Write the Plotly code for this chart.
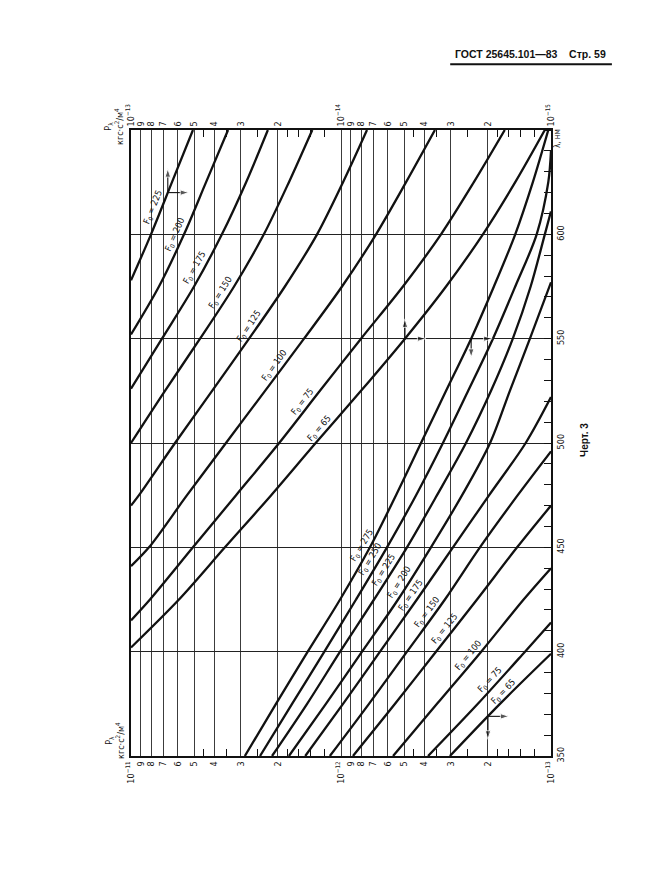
import numpy as np
import plotly.graph_objects as go

# ---------------- data ----------------
# Lower family: read on the BOTTOM axis (10^-11 ... 10^-13)
lam_L275 = [350, 375, 400, 425, 450, 475, 500, 525, 550, 575, 600, 625, 650]
P_L275 = [2.87e-12, 2.04e-12, 1.44e-12, 1.01e-12, 7.28e-13, 5.47e-13, 4.16e-13,
          3.16e-13, 2.40e-13, 1.87e-13, 1.48e-13, 1.22e-13, 1.03e-13]
lam_L250 = [350, 375, 400, 425, 450, 475, 500, 525, 550, 575, 600, 625, 640]
P_L250 = [2.43e-12, 1.71e-12, 1.20e-12, 8.48e-13, 6.04e-13, 4.39e-13, 3.27e-13,
          2.48e-13, 1.89e-13, 1.48e-13, 1.17e-13, 1.03e-13, 1.00e-13]
lam_L225 = [350, 375, 400, 425, 450, 475, 500, 525, 550, 575, 600, 611]
P_L225 = [2.13e-12, 1.45e-12, 1.01e-12, 6.96e-13, 4.85e-13, 3.49e-13, 2.54e-13,
          1.93e-13, 1.52e-13, 1.25e-13, 1.07e-13, 1.00e-13]
lam_L200 = [350, 375, 400, 425, 450, 475, 500, 525, 550, 577]
P_L200 = [1.77e-12, 1.18e-12, 7.94e-13, 5.35e-13, 3.73e-13, 2.65e-13, 1.95e-13,
          1.57e-13, 1.26e-13, 1.00e-13]
lam_L175 = [350, 375, 400, 425, 450, 475, 500, 522]
P_L175 = [1.48e-12, 9.78e-13, 6.52e-13, 4.35e-13, 2.93e-13, 1.97e-13, 1.32e-13, 1.00e-13]
lam_L150 = [350, 375, 400, 425, 450, 475, 496]
P_L150 = [1.13e-12, 7.36e-13, 4.85e-13, 3.20e-13, 2.18e-13, 1.44e-13, 1.00e-13]
lam_L125 = [350, 375, 400, 425, 450, 470]
P_L125 = [8.77e-13, 5.53e-13, 3.53e-13, 2.25e-13, 1.45e-13, 1.00e-13]
lam_L100 = [350, 375, 400, 425, 440]
P_L100 = [5.65e-13, 3.49e-13, 2.15e-13, 1.35e-13, 1.00e-13]
lam_L75 = [350, 375, 400, 414]
P_L75 = [3.85e-13, 2.23e-13, 1.33e-13, 1.00e-13]
lam_L65 = [350, 375, 399]
P_L65 = [3.03e-13, 1.75e-13, 1.00e-13]

# Upper family: read on the TOP axis (10^-13 ... 10^-15)
lam_U225 = [578, 600, 625, 650]
P_U225 = [1.00e-13, 8.03e-14, 6.38e-14, 5.07e-14]
lam_U200 = [552, 575, 600, 625, 650]
P_U200 = [1.00e-13, 7.36e-14, 5.59e-14, 4.39e-14, 3.45e-14]
lam_U175 = [526, 550, 575, 600, 625, 650]
P_U175 = [1.00e-13, 7.12e-14, 5.01e-14, 3.69e-14, 2.83e-14, 2.23e-14]
lam_U150 = [500, 525, 550, 575, 600, 625, 650]
P_U150 = [1.00e-13, 6.89e-14, 4.69e-14, 3.23e-14, 2.33e-14, 1.77e-14, 1.37e-14]
lam_U125 = [470, 475, 500, 525, 550, 575, 600, 625, 650]
P_U125 = [1.00e-13, 9.16e-14, 6.17e-14, 4.11e-14, 2.74e-14, 1.85e-14, 1.30e-14,
          9.78e-15, 7.52e-15]
lam_U100 = [441, 450, 475, 500, 525, 550, 575, 600, 625, 650]
P_U100 = [1.00e-13, 8.21e-14, 5.41e-14, 3.53e-14, 2.30e-14, 1.50e-14, 9.89e-15,
          6.81e-15, 4.90e-15, 3.57e-15]
lam_U75 = [415, 425, 450, 475, 500, 525, 550, 575, 600, 625, 650]
P_U75 = [1.00e-13, 8.12e-14, 5.07e-14, 3.16e-14, 1.97e-14, 1.26e-14, 8.03e-15,
         5.07e-15, 3.34e-15, 2.33e-15, 1.66e-15]
lam_U65 = [402, 425, 450, 475, 500, 525, 550, 575, 600, 625, 650]
P_U65 = [1.00e-13, 5.91e-14, 3.57e-14, 2.15e-14, 1.32e-14, 8.03e-15, 4.96e-15,
         3.16e-15, 2.11e-15, 1.48e-15, 1.07e-15]

F0_lower = [275, 250, 225, 200, 175, 150, 125, 100, 75, 65]
F0_upper = [225, 200, 175, 150, 125, 100, 75, 65]

# where the F0 labels sit (wavelength along each curve) and their slant
lab_lam_lower = [451, 444, 439, 433, 427, 419, 411, 398, 386.5, 381]
lab_ang_lower = [59, 59, 58, 58, 55, 53, 51, 50, 47, 46]
lab_lam_upper = [613, 600, 584, 572, 556, 537, 520, 507]
lab_ang_upper = [68, 66, 60, 58, 56, 54, 52, 49]

# axis ticks
lam_ticks = [350, 400, 450, 500, 550, 600]
mant_ticks = [10, 9, 8, 7, 6, 5, 4, 3, 2]
mant_minor = [4.5, 3.5, 2.5, 1.8, 1.6, 1.4, 1.2]
bottom_decades = [-11, -12, -13]
top_decades = [-13, -14, -15]

lower_curves = [(lam_L275, P_L275), (lam_L250, P_L250), (lam_L225, P_L225),
                (lam_L200, P_L200), (lam_L175, P_L175), (lam_L150, P_L150),
                (lam_L125, P_L125), (lam_L100, P_L100), (lam_L75, P_L75),
                (lam_L65, P_L65)]
upper_curves = [(lam_U225, P_U225), (lam_U200, P_U200), (lam_U175, P_U175),
                (lam_U150, P_U150), (lam_U125, P_U125), (lam_U100, P_U100),
                (lam_U75, P_U75), (lam_U65, P_U65)]

FONT = "Liberation Sans Narrow, DejaVu Sans Condensed, Arial Narrow, sans-serif"
BOLD = "Liberation Sans, Arial, sans-serif"
INK = "#111111"


def log_tick(decades):
    vals, txt = [], []
    for d in decades[:-1]:
        for m in mant_ticks:
            vals.append(m * 10.0 ** (d - 1))
            txt.append("10<sup>−%d</sup>" % (-d) if m == 10 else str(m))
    vals.append(10.0 ** decades[-1])
    txt.append("10<sup>−%d</sup>" % (-decades[-1]))
    minor = [m * 10.0 ** (d - 1) for d in decades[:-1] for m in mant_minor]
    return vals, txt, minor


bx_vals, bx_txt, bx_minor = log_tick(bottom_decades)
tx_vals, tx_txt, tx_minor = log_tick(top_decades)


def at(curve, lam0):
    lam, P = curve
    return float(np.interp(lam0, lam, np.log10(P)))


fig = go.Figure()
for lam, P in lower_curves:
    fig.add_trace(go.Scatter(x=P, y=lam, mode="lines", xaxis="x", yaxis="y",
                             line=dict(color=INK, width=2.3, shape="spline", smoothing=0.9),
                             hoverinfo="skip"))
for lam, P in upper_curves:
    fig.add_trace(go.Scatter(x=P, y=lam, mode="lines", xaxis="x2", yaxis="y",
                             line=dict(color=INK, width=2.3, shape="spline", smoothing=0.9),
                             hoverinfo="skip"))

# direction arrows (which scale to read): origin on a curve, arrow lengths in axis units
ARROW_RIGHT_DEC = 0.10   # to the right = smaller P
arrows = [("x2", upper_curves[0], 620, 11.5),
          ("x2", upper_curves[7], 550, 9.5),
          ("x", lower_curves[0], 550, -9.0),
          ("x", lower_curves[9], 369, -11.0)]
for xr, c, l0, dl in arrows:
    lp = at(c, l0)
    p0 = 10 ** lp
    for xs, ys in [([p0, 10 ** (lp - ARROW_RIGHT_DEC)], [l0, l0]),
                   ([p0, p0], [l0, l0 + dl])]:
        fig.add_trace(go.Scatter(x=xs, y=ys, mode="lines+markers", xaxis=xr, yaxis="y",
                                 line=dict(color=INK, width=1.1),
                                 marker=dict(symbol="arrow", size=[0, 9], color=INK,
                                             angleref="previous"),
                                 hoverinfo="skip"))

ann = []
for f0, c, l0, a in zip(F0_lower, lower_curves, lab_lam_lower, lab_ang_lower):
    ann.append(dict(x=at(c, l0), y=l0, xref="x", yref="y", showarrow=False,
                    text="F<sub>0</sub> = %d" % f0, textangle=-a, xshift=-9,
                    xanchor="center", yanchor="middle",
                    font=dict(size=9, family=FONT, color=INK)))
for f0, c, l0, a in zip(F0_upper, upper_curves, lab_lam_upper, lab_ang_upper):
    ann.append(dict(x=at(c, l0), y=l0, xref="x2", yref="y", showarrow=False,
                    text="F<sub>0</sub> = %d" % f0, textangle=-a, xshift=-9,
                    xanchor="center", yanchor="middle",
                    font=dict(size=9, family=FONT, color=INK)))

unit = "P<sub>λ</sub><br>кгс·с<sup>2</sup>/м<sup>4</sup>"
ann += [
    dict(x=-0.0405, y=1.0064, xref="paper", yref="paper", text=unit, textangle=-90,
         xanchor="center", yanchor="middle", showarrow=False,
         font=dict(size=9, family=FONT, color=INK), align="center"),
    dict(x=-0.038, y=0.024, xref="paper", yref="paper", text=unit, textangle=-90,
         xanchor="center", yanchor="middle", showarrow=False,
         font=dict(size=9, family=FONT, color=INK), align="center"),
    dict(x=1.0143, y=0.9856, xref="paper", yref="paper", text="λ, нм", textangle=-90,
         xanchor="center", yanchor="middle", showarrow=False,
         font=dict(size=8, family=FONT, color=INK)),
    dict(x=0.95, y=1.121, xref="paper", yref="paper",
         text="<b>ГОСТ 25645.101—83    Стр. 59</b>", showarrow=False,
         xanchor="center", yanchor="middle",
         font=dict(size=10.5, family=BOLD, color=INK)),
    dict(x=1.081, y=0.505, xref="paper", yref="paper", text="<b>Черт. 3</b>",
         textangle=-90, showarrow=False, xanchor="center", yanchor="middle",
         font=dict(size=10, family=BOLD, color=INK)),
]

shapes = [dict(type="line", xref="paper", yref="paper", x0=0.76, x1=1.145,
               y0=1.105, y1=1.105, line=dict(color=INK, width=2))]

axis_common = dict(type="log", tickmode="array", tickangle=-90, ticks="",
                   showline=True, linecolor=INK, linewidth=1.6, zeroline=False,
                   tickfont=dict(size=9, family=FONT, color=INK))

# the page body adds an 8 px margin; size the figure so it fits the 651x894 window
fig.update_layout(
    width=635, height=878,
    margin=dict(l=123, r=92, t=122, b=130, autoexpand=False),
    paper_bgcolor="white", plot_bgcolor="white", showlegend=False,
    font=dict(family=FONT, color=INK, size=9),
    xaxis=dict(**axis_common, range=[-11, -13], tickvals=bx_vals, ticktext=bx_txt,
               showgrid=True, gridcolor="#3c3c3c", gridwidth=0.8, side="bottom",
               minor=dict(tickvals=bx_minor, ticks="inside", ticklen=7,
                          tickcolor=INK, tickwidth=1, showgrid=False)),
    xaxis2=dict(**axis_common, range=[-13, -15], tickvals=tx_vals, ticktext=tx_txt,
                showgrid=False, overlaying="x", side="top", anchor="y",
                minor=dict(tickvals=tx_minor, ticks="inside", ticklen=7,
                           tickcolor=INK, tickwidth=1, showgrid=False)),
    yaxis=dict(range=[350, 650], side="right", tickmode="array", tickvals=lam_ticks,
               ticktext=[str(v) for v in lam_ticks], tickangle=-90, ticks="",
               showgrid=True, gridcolor="#222222", gridwidth=1,
               showline=True, mirror=True, linecolor=INK, linewidth=1.6,
               zeroline=False, tickfont=dict(size=9, family=FONT, color=INK),
               minor=dict(dtick=10, tick0=350, ticks="inside", ticklen=7,
                          tickcolor=INK, tickwidth=1, showgrid=False)),
    annotations=ann, shapes=shapes,
)

fig.write_html("out.html")
